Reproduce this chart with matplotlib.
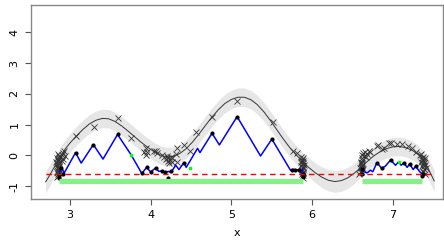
import matplotlib
matplotlib.use("Agg")
import matplotlib.pyplot as plt
import numpy as np

# smooth fitted curve
curve_x = [2.70, 2.76, 2.82, 2.88, 2.94, 3.00, 3.08, 3.16, 3.24, 3.32, 3.40, 3.48, 3.56, 3.64,
           3.72, 3.80, 3.88, 3.96, 4.04, 4.12, 4.20, 4.28, 4.36, 4.44, 4.52, 4.60, 4.68, 4.76,
           4.84, 4.92, 5.00, 5.08, 5.16, 5.24, 5.32, 5.40, 5.48, 5.56, 5.64, 5.72, 5.80, 5.88,
           5.96, 6.04, 6.12, 6.20, 6.28, 6.36, 6.44, 6.52, 6.60, 6.68, 6.76, 6.84, 6.92, 7.00,
           7.08, 7.16, 7.24, 7.32, 7.38, 7.44, 7.51]
curve_y = [-0.86, -0.60, -0.32, -0.04, 0.20, 0.40, 0.63, 0.84, 1.02, 1.14, 1.20, 1.19, 1.10, 0.96,
           0.79, 0.61, 0.43, 0.27, 0.12, 0.01, -0.05, -0.03, 0.06, 0.22, 0.44, 0.70, 0.98, 1.25,
           1.49, 1.69, 1.82, 1.89, 1.89, 1.81, 1.65, 1.42, 1.14, 0.84, 0.54, 0.26, 0.02, -0.20,
           -0.40, -0.57, -0.71, -0.81, -0.85, -0.82, -0.73, -0.58, -0.40, -0.20, -0.02, 0.12, 0.22, 0.28,
           0.29, 0.25, 0.16, 0.01, -0.18, -0.45, -0.83]
band_hw = [0.36, 0.34, 0.32, 0.31, 0.30, 0.30, 0.30, 0.30, 0.30, 0.30, 0.30, 0.30, 0.30, 0.30,
           0.30, 0.30, 0.30, 0.30, 0.30, 0.30, 0.30, 0.30, 0.30, 0.30, 0.30, 0.30, 0.30, 0.30,
           0.30, 0.30, 0.30, 0.30, 0.30, 0.30, 0.30, 0.30, 0.30, 0.30, 0.30, 0.30, 0.30, 0.30,
           0.31, 0.32, 0.34, 0.35, 0.35, 0.35, 0.34, 0.33, 0.31, 0.30, 0.30, 0.30, 0.30, 0.30,
           0.30, 0.30, 0.30, 0.30, 0.31, 0.33, 0.36]

# blue piecewise line, two pieces
blue1_x = [2.87, 2.90, 2.93, 3.07, 3.14, 3.29, 3.41, 3.59, 3.76, 3.89, 3.95, 4.00, 4.06, 4.10,
           4.14, 4.18, 4.22, 4.25, 4.31, 4.35, 4.41, 4.44, 4.58, 4.61, 4.76, 4.85, 5.07, 5.36,
           5.50, 5.73, 5.77, 5.80, 5.83, 5.87, 5.88]
blue1_y = [-0.53, -0.42, -0.57, 0.09, -0.25, 0.35, -0.12, 0.68, 0.01, -0.59, -0.39, -0.54, -0.41, -0.52,
           -0.50, -0.55, -0.52, -0.56, -0.32, -0.46, -0.24, -0.39, 0.23, 0.09, 0.72, 0.34, 1.26, -0.02,
           0.53, -0.48, -0.45, -0.48, -0.46, -0.55, -0.45]
blue2_x = [6.61, 6.64, 6.68, 6.72, 6.75, 6.80, 6.86, 6.905, 6.97, 7.03, 7.07, 7.10, 7.135, 7.175,
           7.205, 7.25, 7.28, 7.33, 7.355]
blue2_y = [-0.48, -0.53, -0.57, -0.48, -0.53, -0.24, -0.42, -0.35, -0.15, -0.32, -0.21, -0.32, -0.24, -0.39,
           -0.28, -0.46, -0.35, -0.53, -0.59]

# black dots
dot_x = [2.86, 2.86, 2.89, 2.91, 3.07, 3.29, 3.59, 3.89, 3.95, 4.00, 4.06, 4.14,
         4.18, 4.22, 4.25, 4.41, 4.76, 5.07, 5.50, 5.75, 5.79, 5.83, 5.88, 5.88,
         6.61, 6.62, 6.80, 6.86, 6.97, 7.135, 7.205, 7.28, 7.37, 7.36]
dot_y = [-0.72, -0.65, -0.42, -0.59, 0.09, 0.35, 0.68, -0.57, -0.39, -0.54, -0.41, -0.52,
         -0.53, -0.73, -0.52, -0.24, 0.72, 1.26, 0.53, -0.47, -0.47, -0.47, -0.62, -0.70,
         -0.62, -0.45, -0.24, -0.42, -0.15, -0.24, -0.28, -0.35, -0.60, -0.66]

# green points
green_x = [3.76, 4.49, 7.07]
green_y = [0.01, -0.40, -0.21]

# crosses (observations)
cross_x = [2.84, 2.85, 2.84, 2.86, 2.85, 2.84, 2.86, 2.85, 2.84, 2.86, 2.85, 2.87, 2.87, 2.83, 2.88,
           2.90, 2.91, 2.92, 2.93, 2.90, 2.94,
           2.86, 2.85, 2.86, 2.84, 2.87, 2.85, 2.86, 2.85,
           3.08, 3.30, 3.59, 3.76,
           3.92, 3.94, 3.94, 3.96, 4.04, 4.06, 4.08, 4.14, 4.17, 4.19, 4.20, 4.21, 4.22, 4.23, 4.24,
           4.25, 4.26, 4.27, 4.31, 4.32, 4.32, 4.41, 4.49, 4.56, 4.76, 5.07, 5.51, 5.76, 5.81,
           5.86, 5.87, 5.88, 5.86, 5.89, 5.87, 5.88, 5.89, 5.86, 5.90, 5.88, 5.89,
           5.87, 5.88, 5.89, 5.87, 5.88, 5.87,
           6.58, 6.60, 6.59, 6.61, 6.60, 6.62, 6.61, 6.63, 6.65, 6.68, 6.70, 6.66, 6.63, 6.62, 6.72,
           6.60, 6.61, 6.62, 6.64, 6.60, 6.62,
           6.80, 6.82, 6.86, 6.89, 6.95, 6.98, 7.05, 7.11, 7.18, 7.24, 7.28, 7.33,
           7.35, 7.37, 7.36, 7.38, 7.36, 7.38, 7.37, 7.39, 7.40, 7.39, 7.35, 7.41,
           7.37, 7.38, 7.36, 7.38, 7.37]
cross_y = [-0.70, -0.62, -0.55, -0.48, -0.40, -0.33, -0.26, -0.18, -0.10, -0.03, 0.03, -0.14, -0.36, -0.22, -0.05,
           0.00, -0.12, 0.08, 0.15, -0.18, -0.02,
           -0.44, -0.51, -0.58, -0.29, -0.08, -0.66, -0.37, -0.15,
           0.63, 0.91, 1.22, 0.57,
           0.12, 0.01, 0.23, 0.12, 0.14, 0.15, 0.07, 0.01, -0.05, -0.12, -0.02, -0.18, -0.08, -0.25, -0.14,
           -0.04, -0.20, -0.10, 0.04, 0.23, -0.21, 0.34, 0.15, 0.77, 1.26, 1.78, 1.07, 0.14, 0.085,
           -0.05, -0.15, -0.25, -0.35, -0.42, -0.50, -0.58, -0.65, -0.20, -0.30, -0.10, -0.72,
           -0.46, -0.38, -0.54, -0.28, -0.18, -0.62,
           -0.60, -0.50, -0.40, -0.30, -0.20, -0.10, 0.00, 0.08, 0.12, 0.05, 0.15, -0.05, -0.45, -0.25, 0.10,
           -0.55, -0.35, -0.15, -0.02, -0.25, -0.42,
           0.30, 0.34, 0.22, 0.23, 0.39, 0.41, 0.37, 0.37, 0.30, 0.23, 0.12, 0.01,
           0.05, -0.05, -0.15, -0.25, -0.35, -0.45, -0.55, -0.62, -0.10, -0.30, -0.20, -0.40,
           -0.50, -0.35, -0.08, -0.18, -0.28]

# threshold line and green intervals
thresh_y = -0.61
thresh_x = [2.70, 7.49]
interval_starts = [2.86, 6.61]
interval_ends = [5.89, 7.36]
interval_y = -0.84

x_ticks = [3, 4, 5, 6, 7]
y_ticks = [-1, 0, 1, 2, 3, 4]

fig = plt.figure(figsize=(4.44, 2.43), dpi=100)
ax = fig.add_axes([0.069, 0.182, 0.929, 0.799])

cx = np.array(curve_x); cy = np.array(curve_y); hw = np.array(band_hw)
ax.fill_between(cx, cy - hw, cy + hw, color='#E6E6E6', lw=0, zorder=1)
ax.plot(cx, cy, color='#333333', lw=0.7, zorder=2)
ax.plot(cross_x, cross_y, ls='none', marker='x', ms=3.8, mew=0.6, color='#333333', zorder=3)
ax.plot(blue1_x, blue1_y, color='#0000FF', lw=1.1, zorder=4)
ax.plot(blue2_x, blue2_y, color='#0000FF', lw=1.1, zorder=4)
ax.plot(dot_x, dot_y, ls='none', marker='o', ms=2.0, color='black', zorder=5)
ax.plot(green_x, green_y, ls='none', marker='s', ms=2.0, color='#00FF00', zorder=6)
ax.plot(thresh_x, [thresh_y, thresh_y], color='#FF0000', lw=1.0, ls=(0, (4, 3)), zorder=5)
for s, e in zip(interval_starts, interval_ends):
    ax.plot([s, e], [interval_y, interval_y], color='#88F088', lw=3.8, solid_capstyle='butt', zorder=5)

ax.set_xlim(2.514, 7.62)
ax.set_ylim(-1.41, 4.9)
ax.set_xticks(x_ticks)
ax.set_yticks(y_ticks)
ax.set_xticklabels([str(t) for t in x_ticks], fontsize=8)
ax.set_yticklabels([str(t) for t in y_ticks], fontsize=8, rotation=90, va='center')
ax.tick_params(direction='out', length=4, width=0.8, color='#555555', pad=4)
for sp in ax.spines.values():
    sp.set_color('#888888')
    sp.set_linewidth(1.0)
ax.set_xlabel('x', fontsize=8, labelpad=6)

fig.savefig('out.png', dpi=100)
